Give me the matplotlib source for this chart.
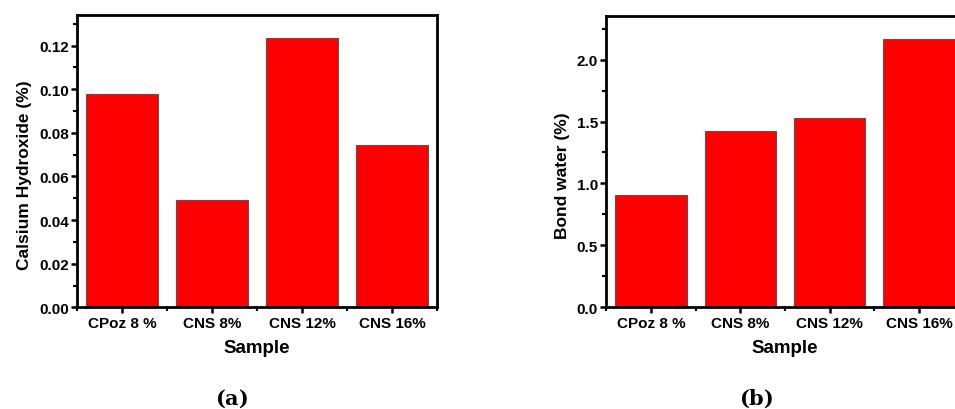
import matplotlib.pyplot as plt
from matplotlib.ticker import MultipleLocator

samples = ['CPoz 8 %', 'CNS 8%', 'CNS 12%', 'CNS 16%']
calcium_hydroxide = [0.0979, 0.0492, 0.1236, 0.0744]
bond_water = [0.903, 1.423, 1.529, 2.170]

plt.rcParams['font.family'] = ['Liberation Sans', 'DejaVu Sans']
plt.rcParams['font.weight'] = 'bold'
plt.rcParams['mathtext.fontset'] = 'dejavuserif'

fig = plt.figure(figsize=(9.55, 4.10), dpi=100)
ax1 = fig.add_axes([0.0806, 0.248, 0.377, 0.713])
ax2 = fig.add_axes([0.635, 0.248, 0.374, 0.710])


def style(ax, vals, ylim, major, minor, ylabel):
    x = range(1, len(samples) + 1)
    ax.bar(x, vals, width=0.8, color='#ff0000', edgecolor='#555555', linewidth=0.8)
    ax.set_xlim(0.5, 4.5)
    ax.set_ylim(0, ylim)
    ax.set_xticks(list(x))
    ax.set_xticklabels(samples)
    ax.xaxis.set_minor_locator(MultipleLocator(1.0, offset=0.5))
    ax.yaxis.set_major_locator(MultipleLocator(major))
    ax.yaxis.set_minor_locator(MultipleLocator(minor))
    for s in ax.spines.values():
        s.set_linewidth(2.0)
    ax.tick_params(which='major', direction='out', length=4.5, width=1.8,
                   labelsize=11, pad=1.5)
    ax.tick_params(which='minor', direction='out', length=3, width=1.5)
    ax.tick_params(top=False, right=False, which='both')
    ax.set_xlabel('Sample', fontsize=13.5, fontweight='bold', labelpad=7)
    ax.set_ylabel(ylabel, fontsize=12.5, fontweight='bold', labelpad=5)
    ax.yaxis.label.set_y(0.456)  # label sits a bit below the middle


style(ax1, calcium_hydroxide, 0.134, 0.02, 0.01, 'Calsium Hydroxide (%)')
ax1.yaxis.set_major_formatter(plt.FormatStrFormatter('%.2f'))
style(ax2, bond_water, 2.35, 0.5, 0.25, 'Bond water (%)')
ax2.yaxis.set_major_formatter(plt.FormatStrFormatter('%.1f'))

fig.text(0.243, 0.028, r'$(\mathbf{a})$', fontsize=15,
         ha='center', va='center')
fig.text(0.792, 0.028, r'$(\mathbf{b})$', fontsize=15,
         ha='center', va='center')

fig.savefig('out.png', dpi=100)
